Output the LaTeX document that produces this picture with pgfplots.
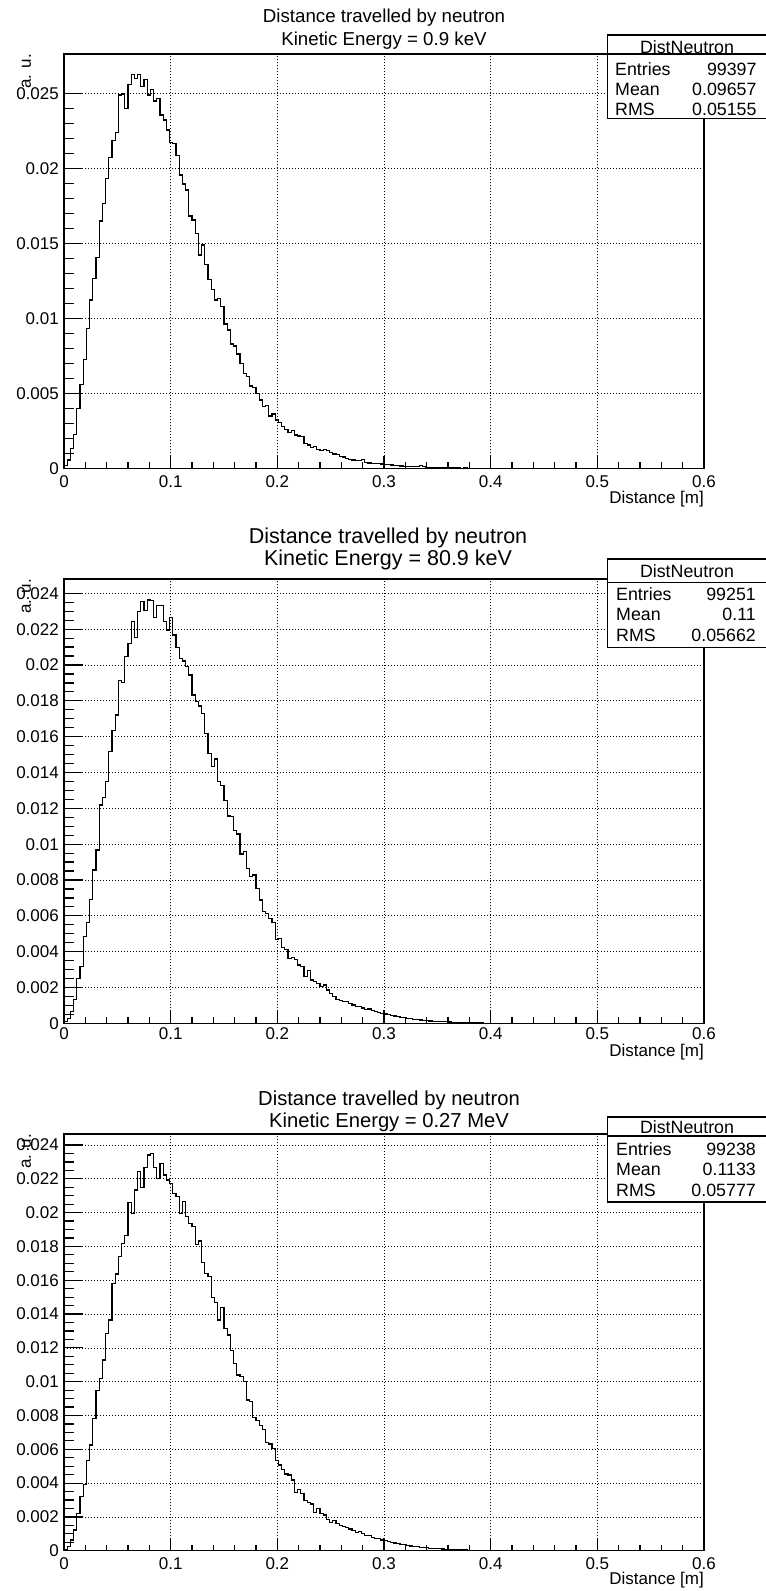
\documentclass[border=0pt]{standalone}
\usepackage{fontspec}
\setmainfont{Liberation Sans}
\usepackage{pgfplots}
\usepackage{pgfplotstable}
\pgfplotsset{compat=1.18}

\newcommand{\fs}[1]{\fontsize{#1}{#1}\selectfont}

% bin contents, 0.003 m per bin starting at 0
\pgfplotstableread[row sep=\\]{y\\
0.0002\\ 0.00056\\ 0.00133\\ 0.00227\\ 0.0040\\ 0.0056\\ 0.00727\\ 0.00933\\ 0.01122\\ 0.01267\\
0.01407\\ 0.01649\\ 0.01767\\ 0.01933\\ 0.02073\\ 0.02184\\ 0.02238\\ 0.02489\\ 0.02495\\ 0.0240\\
0.0256\\ 0.02627\\ 0.0260\\ 0.02627\\ 0.02544\\ 0.02593\\ 0.02489\\ 0.02527\\ 0.02449\\ 0.02467\\
0.02356\\ 0.02322\\ 0.02255\\ 0.02171\\ 0.02167\\ 0.02084\\ 0.01956\\ 0.01895\\ 0.01855\\ 0.01682\\
0.01655\\ 0.01567\\ 0.01422\\ 0.01489\\ 0.0136\\ 0.0126\\ 0.01193\\ 0.01122\\ 0.01133\\ 0.01078\\
0.00962\\ 0.00922\\ 0.00829\\ 0.00815\\ 0.00762\\ 0.0070\\ 0.00633\\ 0.00611\\ 0.00549\\ 0.0054\\
0.0050\\ 0.00456\\ 0.00411\\ 0.00418\\ 0.00349\\ 0.00362\\ 0.00322\\ 0.00304\\ 0.00278\\ 0.0026\\
0.00238\\ 0.0025\\ 0.00222\\ 0.00215\\ 0.00211\\ 0.00167\\ 0.00155\\ 0.0014\\ 0.00144\\ 0.00127\\
0.0012\\ 0.00125\\ 0.0012\\ 0.00105\\ 0.00096\\ 0.0009\\ 0.0008\\ 0.00075\\ 0.00067\\ 0.0006\\
0.00056\\ 0.00052\\ 0.0005\\ 0.00058\\ 0.0004\\ 0.00036\\ 0.00033\\ 0.0003\\ 0.0003\\ 0.00029\\
0.00026\\ 0.00024\\ 0.00022\\ 0.0002\\ 0.00017\\ 0.00015\\ 0.00013\\ 0.00013\\ 0.00012\\ 0.0001\\
0.00012\\ 0.00018\\ 0.0001\\ 0.00008\\ 0.00007\\ 0.00007\\ 0.00005\\ 0.00005\\ 0.00004\\ 0.00004\\
0.00003\\ 0.00003\\ 0.00002\\ 0.00003\\ 0.00001\\ 0.00002\\ 0.00001\\ 0\\ 0.00001\\ 0\\ 0\\
}\histA

\pgfplotstableread[row sep=\\]{y\\
0.0001\\ 0.00028\\ 0.00065\\ 0.00134\\ 0.00251\\ 0.00316\\ 0.00484\\ 0.00564\\ 0.00692\\ 0.00856\\
0.00967\\ 0.01219\\ 0.01261\\ 0.01349\\ 0.01516\\ 0.01634\\ 0.01721\\ 0.01913\\ 0.01903\\ 0.02047\\
0.02121\\ 0.02242\\ 0.02154\\ 0.02298\\ 0.02354\\ 0.02303\\ 0.02363\\ 0.02359\\ 0.02264\\ 0.02331\\
0.02331\\ 0.02242\\ 0.02195\\ 0.02266\\ 0.02167\\ 0.02099\\ 0.02037\\ 0.02022\\ 0.01991\\ 0.01944\\
0.01833\\ 0.01795\\ 0.01771\\ 0.0173\\ 0.01619\\ 0.01507\\ 0.01433\\ 0.01475\\ 0.01349\\ 0.01327\\
0.01243\\ 0.01157\\ 0.01154\\ 0.01075\\ 0.01057\\ 0.00945\\ 0.00958\\ 0.00865\\ 0.00819\\ 0.00828\\
0.00753\\ 0.00688\\ 0.00623\\ 0.00614\\ 0.00586\\ 0.00562\\ 0.00469\\ 0.00474\\ 0.00424\\ 0.00413\\
0.00363\\ 0.00368\\ 0.00357\\ 0.00326\\ 0.00316\\ 0.0026\\ 0.00294\\ 0.00242\\ 0.00233\\ 0.00223\\
0.00205\\ 0.00214\\ 0.00186\\ 0.00167\\ 0.00149\\ 0.00135\\ 0.00128\\ 0.0012\\ 0.00122\\ 0.0011\\
0.00102\\ 0.00096\\ 0.00092\\ 0.00085\\ 0.00078\\ 0.0008\\ 0.0007\\ 0.00065\\ 0.00062\\ 0.00056\\
0.00052\\ 0.00048\\ 0.00045\\ 0.00041\\ 0.00038\\ 0.00033\\ 0.00031\\ 0.00028\\ 0.00025\\ 0.00023\\
0.00021\\ 0.00019\\ 0.00017\\ 0.00015\\ 0.00013\\ 0.00012\\ 0.00011\\ 0.0001\\ 0.00009\\ 0.00008\\
0.00007\\ 0.00006\\ 0.00006\\ 0.00005\\ 0.00004\\ 0.00004\\ 0.00003\\ 0.00003\\ 0.00002\\ 0.00002\\
0.00002\\ 0.00001\\ 0.00001\\ 0\\ 0.00001\\ 0\\ 0\\
}\histB

\pgfplotstableread[row sep=\\]{y\\
0.00008\\ 0.00024\\ 0.00063\\ 0.00122\\ 0.00221\\ 0.0032\\ 0.00392\\ 0.00536\\ 0.00625\\ 0.00783\\
0.0095\\ 0.0102\\ 0.01128\\ 0.01286\\ 0.01365\\ 0.01582\\ 0.01637\\ 0.01739\\ 0.01818\\ 0.01867\\
0.02059\\ 0.01996\\ 0.02134\\ 0.02242\\ 0.0215\\ 0.02268\\ 0.02341\\ 0.02351\\ 0.02268\\ 0.02203\\
0.02292\\ 0.02222\\ 0.02193\\ 0.02173\\ 0.02114\\ 0.02094\\ 0.01996\\ 0.02065\\ 0.01976\\ 0.01937\\
0.01917\\ 0.01812\\ 0.01832\\ 0.01704\\ 0.01641\\ 0.01621\\ 0.01497\\ 0.01467\\ 0.01365\\ 0.01438\\
0.01315\\ 0.01276\\ 0.01183\\ 0.01108\\ 0.01039\\ 0.01029\\ 0.0100\\ 0.00891\\ 0.00881\\ 0.00789\\
0.00769\\ 0.00743\\ 0.00718\\ 0.00639\\ 0.00631\\ 0.00605\\ 0.00536\\ 0.00507\\ 0.00481\\ 0.00454\\
0.00448\\ 0.00418\\ 0.00343\\ 0.00363\\ 0.00339\\ 0.00296\\ 0.00284\\ 0.00276\\ 0.00225\\ 0.0025\\
0.00221\\ 0.00211\\ 0.00185\\ 0.00166\\ 0.00177\\ 0.00162\\ 0.0015\\ 0.00142\\ 0.00135\\ 0.00128\\
0.0012\\ 0.0011\\ 0.00112\\ 0.0010\\ 0.00092\\ 0.00088\\ 0.0008\\ 0.00072\\ 0.0007\\ 0.00064\\
0.0006\\ 0.00054\\ 0.0005\\ 0.00046\\ 0.00042\\ 0.00038\\ 0.00035\\ 0.00032\\ 0.00028\\ 0.00026\\
0.00024\\ 0.00021\\ 0.00019\\ 0.00017\\ 0.00015\\ 0.00014\\ 0.00012\\ 0.00011\\ 0.0001\\ 0.00009\\
0.00008\\ 0.00007\\ 0.00006\\ 0.00005\\ 0.00005\\ 0.00004\\ 0.00003\\ 0.00003\\ 0.00002\\ 0.00002\\
0.00001\\ 0.00002\\ 0.00001\\ 0\\ 0.00001\\ 0\\ 0\\
}\histC

\pgfplotsset{
  rootframe/.style={
    scale only axis, width=640pt,
    xmin=0, xmax=0.6, ymin=0,
    axis line style={line width=1.5pt},
    tick pos=left, tick align=inside,
    xtick={0,0.1,0.2,0.3,0.4,0.5,0.6},
    xticklabels={0,0.1,0.2,0.3,0.4,0.5,0.6},
    minor x tick num=4,
    grid=major,
    grid style={black, line width=0.7pt, dash pattern=on 1pt off 2pt},
    tick style={black, line width=1.2pt},
    ytick style={/pgfplots/major tick length=19.2pt, /pgfplots/minor tick length=9.6pt},
    scaled ticks=false,
    /pgf/number format/assume math mode=true,
    yticklabel={\pgfmathprintnumber[fixed,precision=3]{\tick}},
    tick label style={font=\fs{17}},
    yticklabel style={anchor=east, inner sep=0pt, xshift=-5pt},
    xticklabel style={anchor=base, inner sep=0pt},
    xlabel={Distance [m]}, ylabel={a. u.},
    label style={font=\fs{17}, inner sep=0pt},
    xlabel style={at={(axis description cs:1,0)}, anchor=base east},
    ylabel style={at={(axis description cs:-0.051,1)}, anchor=south east},
  },
  hist/.style={const plot mark left, black, line width=1.2pt, mark=none},
}

\begin{document}
\begin{tikzpicture}
\path[use as bounding box] (0pt,0pt) rectangle (766pt,-1591pt);

% ---- panel 1
\node[anchor=base, font=\fs{18.7}, inner sep=0pt] at (384pt,-22.7pt) {Distance travelled by neutron};
\node[anchor=base, font=\fs{18.7}, inner sep=0pt] at (384pt,-45pt) {Kinetic Energy = 0.9 keV};
\begin{axis}[rootframe, at={(64pt,-468.3pt)}, anchor=south west,
  height=414.3pt, ymax=0.02762,
  ytick={0,0.005,0.01,0.015,0.02,0.025}, minor y tick num=4,
  xtick style={/pgfplots/major tick length=12.4pt, /pgfplots/minor tick length=6.2pt},
  xticklabel style={yshift=-18.7pt},
  xlabel style={yshift=-35pt}]
\addplot[hist] table[x expr=\coordindex*0.003, y=y] {\histA};
\end{axis}
\draw[line width=1.3pt, fill=white] (607.7pt,-35pt) rectangle (768pt,-118.3pt);
\draw[line width=1.3pt] (607.7pt,-54pt) -- (768pt,-54pt);
\node[anchor=base, font=\fs{17.8}, inner sep=0pt] at (687pt,-53pt) {DistNeutron};
\node[anchor=base west, font=\fs{17.8}, inner sep=0pt] at (615pt,-75pt) {Entries};
\node[anchor=base west, font=\fs{17.8}, inner sep=0pt] at (615pt,-95pt) {Mean};
\node[anchor=base west, font=\fs{17.8}, inner sep=0pt] at (615pt,-115pt) {RMS};
\node[anchor=base east, font=\fs{17.8}, inner sep=0pt] at (756.7pt,-75pt) {99397};
\node[anchor=base east, font=\fs{17.8}, inner sep=0pt] at (756.7pt,-95pt) {0.09657};
\node[anchor=base east, font=\fs{17.8}, inner sep=0pt] at (756.7pt,-115pt) {0.05155};

% ---- panel 2
\node[anchor=base, font=\fs{21.5}, inner sep=0pt] at (388pt,-543pt) {Distance travelled by neutron};
\node[anchor=base, font=\fs{21.5}, inner sep=0pt] at (388pt,-565.5pt) {Kinetic Energy = 80.9 keV};
\begin{axis}[rootframe, at={(64pt,-1023.3pt)}, anchor=south west,
  height=444.3pt, ymax=0.0248,
  ytick={0,0.002,0.004,0.006,0.008,0.01,0.012,0.014,0.016,0.018,0.02,0.022,0.024},
  minor y tick num=3,
  xtick style={/pgfplots/major tick length=13.3pt, /pgfplots/minor tick length=6.7pt},
  xticklabel style={yshift=-16pt},
  xlabel style={yshift=-33pt}]
\addplot[hist] table[x expr=\coordindex*0.003, y=y] {\histB};
\end{axis}
\draw[line width=1.3pt, fill=white] (607.7pt,-559pt) rectangle (768pt,-647.7pt);
\draw[line width=1.3pt] (607.7pt,-582.3pt) -- (768pt,-582.3pt);
\node[anchor=base, font=\fs{17.8}, inner sep=0pt] at (687pt,-577pt) {DistNeutron};
\node[anchor=base west, font=\fs{17.8}, inner sep=0pt] at (616pt,-600pt) {Entries};
\node[anchor=base west, font=\fs{17.8}, inner sep=0pt] at (616pt,-620.5pt) {Mean};
\node[anchor=base west, font=\fs{17.8}, inner sep=0pt] at (616pt,-641pt) {RMS};
\node[anchor=base east, font=\fs{17.8}, inner sep=0pt] at (756pt,-600pt) {99251};
\node[anchor=base east, font=\fs{17.8}, inner sep=0pt] at (756pt,-620.5pt) {0.11};
\node[anchor=base east, font=\fs{17.8}, inner sep=0pt] at (756pt,-641pt) {0.05662};

% ---- panel 3
\node[anchor=base, font=\fs{20.2}, inner sep=0pt] at (389pt,-1105pt) {Distance travelled by neutron};
\node[anchor=base, font=\fs{20.2}, inner sep=0pt] at (389pt,-1127.5pt) {Kinetic Energy = 0.27 MeV};
\begin{axis}[rootframe, at={(64pt,-1550.7pt)}, anchor=south west,
  height=416.7pt, ymax=0.02465,
  ytick={0,0.002,0.004,0.006,0.008,0.01,0.012,0.014,0.016,0.018,0.02,0.022,0.024},
  minor y tick num=3,
  xtick style={/pgfplots/major tick length=12.5pt, /pgfplots/minor tick length=6.2pt},
  xticklabel style={yshift=-18.8pt},
  xlabel style={yshift=-34pt}]
\addplot[hist] table[x expr=\coordindex*0.003, y=y] {\histC};
\end{axis}
\draw[line width=1.3pt, fill=white] (607.7pt,-1117pt) rectangle (768pt,-1202pt);
\draw[line width=1.3pt] (607.7pt,-1136pt) -- (768pt,-1136pt);
\node[anchor=base, font=\fs{17.8}, inner sep=0pt] at (687pt,-1133pt) {DistNeutron};
\node[anchor=base west, font=\fs{17.8}, inner sep=0pt] at (616pt,-1155pt) {Entries};
\node[anchor=base west, font=\fs{17.8}, inner sep=0pt] at (616pt,-1175.7pt) {Mean};
\node[anchor=base west, font=\fs{17.8}, inner sep=0pt] at (616pt,-1196pt) {RMS};
\node[anchor=base east, font=\fs{17.8}, inner sep=0pt] at (756pt,-1155pt) {99238};
\node[anchor=base east, font=\fs{17.8}, inner sep=0pt] at (756pt,-1175.7pt) {0.1133};
\node[anchor=base east, font=\fs{17.8}, inner sep=0pt] at (756pt,-1196pt) {0.05777};
\end{tikzpicture}
\end{document}
